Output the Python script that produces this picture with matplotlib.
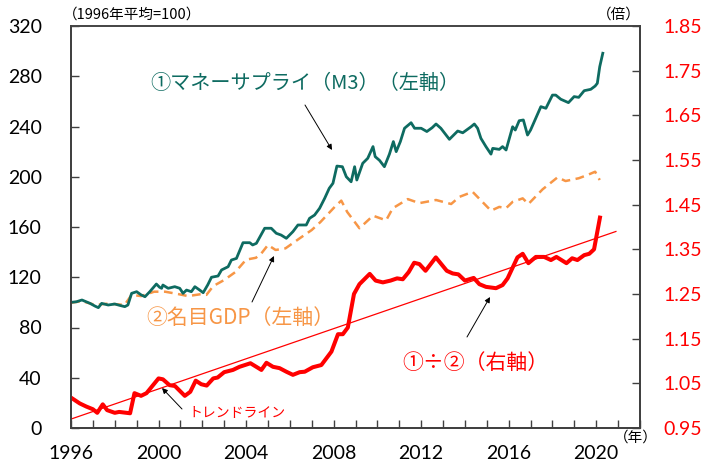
import matplotlib
matplotlib.use('Agg')
import matplotlib.pyplot as plt
from matplotlib.ticker import MultipleLocator

JP = ['Noto Sans CJK JP', 'DejaVu Sans']
NUM = ['Lato', 'Noto Sans CJK JP']

TEAL = '#0E6B61'
ORANGE = '#F79646'
RED = '#FF0000'

# ① money supply (M3), 1996 avg = 100
m3_years = [1996.0, 1996.25, 1996.5, 1996.87, 1997.1, 1997.25, 1997.4, 1997.7, 1998.0, 1998.25,
            1998.46, 1998.6, 1998.77, 1999.0, 1999.2, 1999.38, 1999.6, 1999.9, 2000.05, 2000.14,
            2000.2, 2000.44, 2000.74, 2000.97, 2001.12, 2001.28, 2001.5, 2001.66, 2001.88, 2002.04,
            2002.25, 2002.42, 2002.72, 2002.88, 2003.18, 2003.33, 2003.56, 2003.86, 2004.17, 2004.3,
            2004.47, 2004.85, 2005.15, 2005.38, 2005.6, 2005.84, 2006.14, 2006.37, 2006.75, 2006.9,
            2007.13, 2007.36, 2007.59, 2007.8, 2007.97, 2008.15, 2008.4, 2008.58, 2008.8, 2008.96,
            2009.06, 2009.33, 2009.56, 2009.8, 2009.9, 2010.1, 2010.32, 2010.55, 2010.73, 2010.86,
            2011.05, 2011.24, 2011.54, 2011.7, 2012.0, 2012.26, 2012.5, 2012.68, 2012.9, 2013.29,
            2013.67, 2013.9, 2014.28, 2014.43, 2014.58, 2014.73, 2014.96, 2015.19, 2015.27, 2015.57,
            2015.72, 2015.88, 2016.18, 2016.3, 2016.48, 2016.67, 2016.86, 2017.0, 2017.47, 2017.7,
            2018.0, 2018.15, 2018.38, 2018.73, 2018.99, 2019.2, 2019.45, 2019.75, 2019.95, 2020.05,
            2020.16, 2020.3]
m3_vals = [100.0, 100.5, 101.9, 99.2, 97.0, 95.8, 99.2, 97.9, 98.7, 97.5,
           96.6, 97.9, 107.2, 108.5, 106.0, 104.5, 108.5, 114.6, 112.0, 111.2,
           113.8, 111.2, 112.5, 111.2, 107.2, 109.8, 108.5, 112.5, 109.8, 107.7,
           114.0, 120.0, 121.0, 125.8, 128.4, 133.7, 135.0, 147.5, 147.5, 145.7,
           147.0, 159.0, 159.0, 155.0, 153.6, 151.0, 156.3, 161.6, 161.6, 166.9,
           169.5, 174.9, 182.8, 190.8, 194.8, 208.5, 208.0, 200.0, 196.0, 208.0,
           197.4, 210.7, 214.7, 224.0, 216.0, 213.0, 208.0, 218.0, 228.0, 220.0,
           228.0, 238.6, 243.0, 238.6, 238.6, 236.0, 239.0, 242.0, 238.6, 229.8,
           236.4, 235.0, 239.8, 242.0, 238.6, 230.6, 224.0, 218.0, 222.6, 221.8,
           224.0, 221.3, 239.8, 237.2, 244.6, 245.2, 233.2, 237.2, 255.8, 254.5,
           265.0, 265.0, 261.7, 259.0, 263.8, 263.2, 268.5, 269.6, 272.2, 274.4,
           287.6, 298.3]

# ② nominal GDP, 1996 avg = 100
gdp_years = [1996.0, 1996.5, 1997.1, 1997.7, 1998.45, 1998.77, 1999.2, 1999.8, 2000.3, 2000.9,
             2001.35, 2001.96, 2002.19, 2002.5, 2003.0, 2003.5, 2004.0, 2004.45, 2004.7, 2005.0,
             2005.35, 2005.8, 2006.45, 2007.0, 2007.4, 2008.05, 2008.35, 2008.62, 2009.18, 2009.8,
             2010.4, 2010.7, 2011.39, 2011.92, 2012.68, 2013.37, 2013.75, 2014.35, 2015.19, 2015.57,
             2015.88, 2016.18, 2016.64, 2016.9, 2017.55, 2018.23, 2018.6, 2019.2, 2019.6, 2019.95,
             2020.16]
gdp_vals = [99.7, 101.0, 98.0, 99.0, 98.0, 106.0, 105.0, 108.5, 108.5, 106.6,
            105.0, 106.6, 106.0, 113.0, 117.8, 124.0, 134.0, 135.5, 139.0, 145.7,
            141.7, 143.0, 151.0, 157.6, 164.0, 176.0, 181.0, 172.0, 159.0, 169.0,
            165.3, 174.9, 182.2, 179.0, 181.5, 178.3, 184.0, 188.0, 173.0, 176.0,
            175.0, 180.0, 182.8, 178.3, 190.0, 199.5, 196.6, 198.8, 201.4, 204.0,
            197.4]

# ①÷② (times), right axis
ratio_years = [1996.0, 1996.4, 1996.7, 1997.0, 1997.2, 1997.45, 1997.65, 1998.0, 1998.2, 1998.7,
               1998.9, 1999.2, 1999.45, 2000.0, 2000.2, 2000.5, 2000.75, 2001.2, 2001.45, 2001.7,
               2001.95, 2002.2, 2002.5, 2002.7, 2003.0, 2003.4, 2003.7, 2004.2, 2004.7, 2004.93,
               2005.23, 2005.53, 2005.84, 2006.14, 2006.45, 2006.68, 2007.05, 2007.44, 2007.9, 2008.2,
               2008.42, 2008.65, 2008.93, 2009.18, 2009.65, 2009.92, 2010.25, 2010.6, 2010.9, 2011.16,
               2011.43, 2011.68, 2011.92, 2012.2, 2012.67, 2013.17, 2013.44, 2013.7, 2014.0, 2014.4,
               2014.66, 2014.96, 2015.42, 2015.72, 2015.95, 2016.4, 2016.64, 2016.9, 2017.24, 2017.62,
               2017.93, 2018.18, 2018.64, 2018.9, 2019.14, 2019.45, 2019.68, 2019.9, 2020.17]
ratio_vals = [1.018, 1.005, 0.998, 0.992, 0.984, 1.003, 0.990, 0.984, 0.986, 0.983,
              1.028, 1.022, 1.028, 1.061, 1.059, 1.046, 1.044, 1.022, 1.031, 1.056,
              1.048, 1.045, 1.061, 1.063, 1.075, 1.080, 1.087, 1.095, 1.080, 1.096,
              1.087, 1.084, 1.076, 1.069, 1.075, 1.076, 1.086, 1.091, 1.121, 1.160,
              1.160, 1.175, 1.250, 1.272, 1.295, 1.280, 1.276, 1.280, 1.285, 1.283,
              1.299, 1.320, 1.317, 1.302, 1.332, 1.302, 1.296, 1.294, 1.280, 1.286,
              1.272, 1.266, 1.263, 1.270, 1.285, 1.332, 1.340, 1.319, 1.333, 1.333,
              1.326, 1.333, 1.319, 1.330, 1.326, 1.337, 1.340, 1.350, 1.421]

trend_years = [1996.0, 2020.9]
trend_vals = [0.970, 1.390]

fig = plt.figure(figsize=(7.04, 4.67), dpi=100)
ax = fig.add_axes([71 / 704, 1 - 428 / 467, (640 - 71) / 704, (428 - 26) / 467])
ax2 = ax.twinx()

ax.plot(gdp_years, gdp_vals, color=ORANGE, lw=1.8, ls=(0, (3.5, 2.2)))
ax.plot(m3_years, m3_vals, color=TEAL, lw=2.0)
ax2.plot(trend_years, trend_vals, color=RED, lw=0.9)
ax2.plot(ratio_years, ratio_vals, color=RED, lw=2.9, solid_joinstyle='round')

ax.set_xlim(1996, 2022)
ax.set_ylim(0, 320)
ax2.set_ylim(0.95, 1.85)
ax.yaxis.set_major_locator(MultipleLocator(40))
ax2.set_yticks([0.95 + 0.1 * i for i in range(10)])
ax2.set_yticklabels([f'{0.95 + 0.1 * i:.2f}' for i in range(10)])
ax.set_xticks(range(1996, 2023))
ax.set_xticklabels([str(y) if (y - 1996) % 4 == 0 and y < 2022 else '' for y in range(1996, 2023)])

for a in (ax, ax2):
    for s in a.spines.values():
        s.set_color('#404040')
        s.set_linewidth(1.3)
ax.spines['top'].set_color('#8c8c8c')

ax.tick_params(axis='x', direction='in', length=6, width=1, color='#404040', pad=12,
               labelsize=14)
ax.tick_params(axis='y', direction='in', length=6, width=1, color='#404040', pad=21,
               labelsize=14)
ax2.tick_params(axis='y', direction='in', length=6, width=1, color='#404040', pad=17,
                labelsize=14, labelcolor=RED)
for lab in ax.get_xticklabels() + ax.get_yticklabels() + ax2.get_yticklabels():
    lab.set_family(NUM)

fig.text(63 / 704, 1 - 15 / 467, '（1996年平均=100）', family=JP, fontsize=10.5,
         ha='left', va='center')
fig.text(619 / 704, 1 - 15 / 467, '（倍）', family=JP, fontsize=10.5, ha='center', va='center')
fig.text(636 / 704, 1 - 438 / 467, '（年）', family=JP, fontsize=10.5, ha='center', va='center')


def px(x, y):
    return (x / 704, 1 - y / 467)


arrow = dict(arrowstyle='-|>', color='black', lw=0.7, mutation_scale=8, shrinkA=0, shrinkB=0)
ax.text(*px(305, 83), '①マネーサプライ（M3）（左軸）', transform=fig.transFigure, color=TEAL,
        fontsize=14.5, family=JP, ha='center', va='center')
ax.annotate('', xy=px(332, 150), xycoords='figure fraction', xytext=px(305, 105),
            textcoords='figure fraction', arrowprops=arrow)

ax.text(*px(240, 318), '②名目GDP（左軸）', transform=fig.transFigure, color=ORANGE,
        fontsize=15, family=JP, ha='center', va='center')
ax.annotate('', xy=px(274, 256), xycoords='figure fraction', xytext=px(252, 302),
            textcoords='figure fraction', arrowprops=arrow)

ax.text(*px(475, 363), '①÷②（右軸）', transform=fig.transFigure, color=RED,
        fontsize=15, family=JP, ha='center', va='center')
ax.annotate('', xy=px(490, 297), xycoords='figure fraction', xytext=px(467, 337),
            textcoords='figure fraction', arrowprops=arrow)

ax.text(*px(237, 413), 'トレンドライン', transform=fig.transFigure, color=RED,
        fontsize=10, family=JP, ha='center', va='center')
ax.annotate('', xy=px(162, 388), xycoords='figure fraction', xytext=px(182, 409),
            textcoords='figure fraction', arrowprops=arrow)

fig.savefig('out.png', dpi=100)
